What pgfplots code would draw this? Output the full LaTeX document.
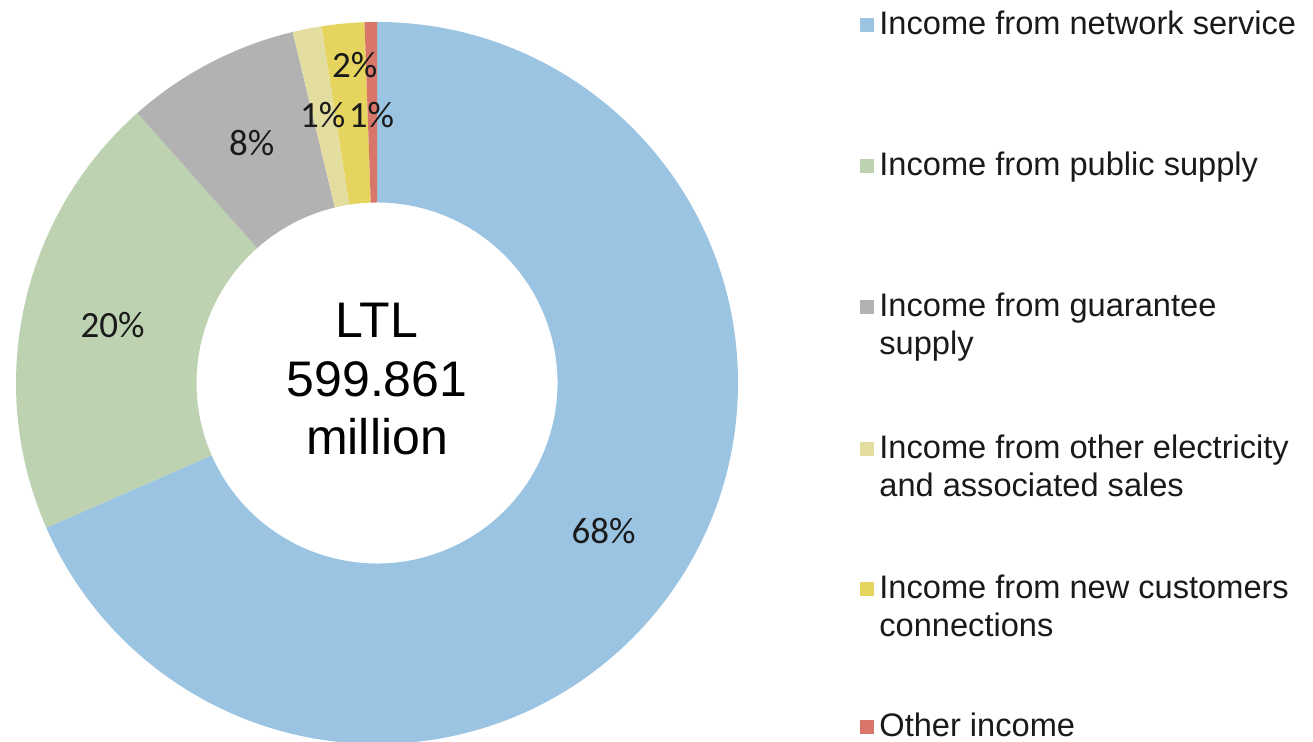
\documentclass[border=0pt]{standalone}
\usepackage{fontspec}
\setmainfont{Liberation Sans}
\newfontfamily\carlito{Carlito}
\usepackage{pgfplots}
\usepackage{pgfplotstable}
\pgfplotsset{compat=1.18}
\definecolor{c0}{HTML}{9AC4E2}
\definecolor{c1}{HTML}{BCD2B1}
\definecolor{c2}{HTML}{B2B2B2}
\definecolor{c3}{HTML}{E4DDA0}
\definecolor{c4}{HTML}{E5D55F}
\definecolor{c5}{HTML}{D8766A}
\definecolor{txt}{HTML}{1A1A1A}
% share (%), label radius (outer radius = 1), label angle shift
\pgfplotstableread{
value lr   da
68.4  0.75 0
20.0  0.75 0
7.8   0.75 0
1.3   0.757 0.3
1.9   0.883 -1.4
0.55  0.742 0.2
}\donut
\begin{document}
\begin{tikzpicture}
\begin{axis}[hide axis, scale only axis, width=361pt, height=361pt,
  xmin=-1, xmax=1, ymin=-1, ymax=1, clip=false,
  at={(188.5pt,179.5pt)}, anchor=origin]
\addplot[draw=none, forget plot] coordinates {(0,0)};
\pgfplotsextra{
  \def\total{0}
  \pgfplotsforeachungrouped \i in {0,...,5}{
    \pgfplotstablegetelem{\i}{value}\of\donut
    \pgfmathsetmacro\total{\total+\pgfplotsretval}
  }
  % slices
  \def\cum{0}
  \pgfplotsforeachungrouped \i in {0,...,5}{
    \pgfplotstablegetelem{\i}{value}\of\donut
    \let\v\pgfplotsretval
    \pgfmathsetmacro\aa{90-\cum/\total*360}
    \pgfmathsetmacro\cum{\cum+\v}
    \pgfmathsetmacro\ab{90-\cum/\total*360}
    \pgfmathsetmacro\xa{cos(\aa)}
    \pgfmathsetmacro\ya{sin(\aa)}
    \pgfmathsetmacro\xb{0.5*cos(\ab)}
    \pgfmathsetmacro\yb{0.5*sin(\ab)}
    \fill[c\i] (axis cs:\xa,\ya) arc[start angle=\aa, end angle=\ab, radius=180.5pt]
      -- (axis cs:\xb,\yb) arc[start angle=\ab, end angle=\aa, radius=90.25pt] -- cycle;
  }
  % labels
  \def\cum{0}
  \pgfplotsforeachungrouped \i in {0,...,5}{
    \pgfplotstablegetelem{\i}{value}\of\donut
    \let\v\pgfplotsretval
    \pgfplotstablegetelem{\i}{lr}\of\donut
    \let\lr\pgfplotsretval
    \pgfplotstablegetelem{\i}{da}\of\donut
    \let\da\pgfplotsretval
    \pgfmathsetmacro\aa{90-\cum/\total*360}
    \pgfmathsetmacro\cum{\cum+\v}
    \pgfmathsetmacro\ab{90-\cum/\total*360}
    \pgfmathsetmacro\am{(\aa+\ab)/2+\da}
    \pgfmathsetmacro\lx{\lr*cos(\am)}
    \pgfmathsetmacro\ly{\lr*sin(\am)}
    \pgfmathtruncatemacro\lab{round(\v)}
    \node[text=txt, inner sep=0, font=\carlito\fontsize{18.5}{22}\selectfont] at (axis cs:\lx,\ly) {\lab\%};
  }
}
\end{axis}
% centre text
\node[anchor=base, inner sep=0, font=\fontsize{25}{30}\selectfont] at (188.5pt,202pt) {LTL};
\node[anchor=base, inner sep=0, font=\fontsize{25}{30}\selectfont] at (188.5pt,172.5pt) {599.861};
\node[anchor=base, inner sep=0, font=\fontsize{25}{30}\selectfont] at (188.5pt,143.5pt) {million};
% legend
\foreach \i/\la/\lb/\bl in {0/Income from network service//35, 1/Income from public supply//176,
  2/Income from guarantee/supply/317, 3/Income from other electricity/and associated sales/459,
  4/Income from new customers/connections/599, 5/Other income//737}{
  \pgfmathsetmacro\by{(742-\bl)*0.5}
  \fill[c\i] (430pt,\by pt+1.5pt) rectangle ++(7pt,7pt);
  \node[anchor=base west, inner sep=0, text=txt, font=\fontsize{16.3}{19}\selectfont] at (439.5pt,\by pt) {\la};
  \node[anchor=base west, inner sep=0, text=txt, font=\fontsize{16.3}{19}\selectfont] at (439.5pt,\by pt-19pt) {\lb};
}
\pgfresetboundingbox
\useasboundingbox (0,0) rectangle (656.5pt,371pt);
\end{tikzpicture}
\end{document}
